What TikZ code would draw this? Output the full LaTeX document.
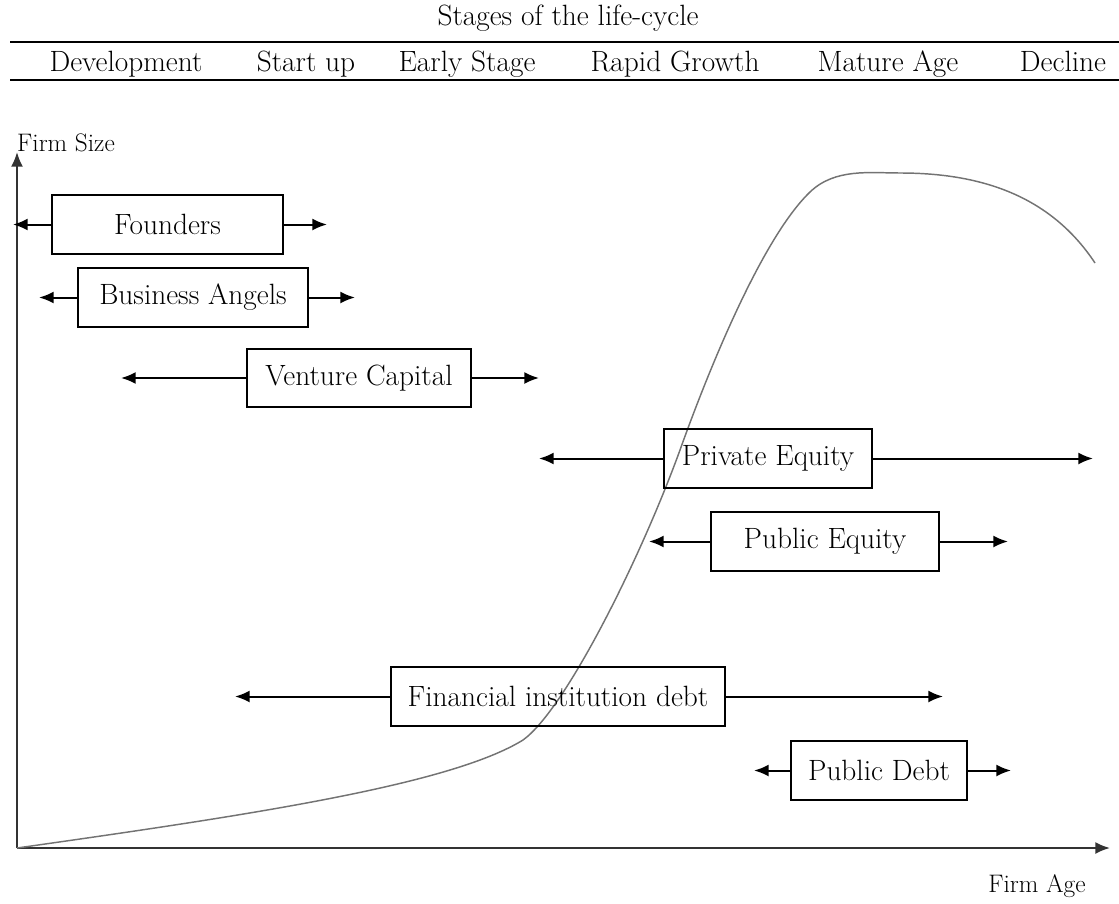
\documentclass[tikz,border=0pt]{standalone}
\usepackage{amsmath}
\usepackage{xcolor}
\usepackage{tikz}
\usetikzlibrary{arrows.meta,positioning}

\begin{document}
\begin{tikzpicture}[x=0.75pt,y=-0.75pt,
    fund/.style={draw,line width=1.5pt,minimum height=44pt,inner sep=0pt,font=\fontsize{22}{26}\selectfont},
    tip/.style={line width=1.5pt,-{Latex[length=11pt,width=9pt]}},
    lbl/.style={font=\fontsize{22}{26}\selectfont}]
            \useasboundingbox (0,0) rectangle (1119,903);

            % stages of the life-cycle
            \node[lbl] (stages) at (568,18) {Stages of the life-cycle};
            \draw[line width=1.5pt] (10,42) -- (1119,42);
            \draw[line width=1.5pt] (10,80) -- (1119,80);
            \node[lbl,anchor=base] (dev) at (126,71) {Development};
            \node[lbl,anchor=base] (start) at (306,71) {Start up};
            \node[lbl,anchor=base] (early) at (467,71) {Early Stage};
            \node[lbl,anchor=base] (rapid) at (675,71) {Rapid Growth};
            \node[lbl,anchor=base] (mature) at (888,71) {Mature Age};
            \node[lbl,anchor=base] (decline) at (1063,71) {Decline};

            % axes
            \coordinate (O) at (17,848);
            \coordinate (ytop) at (17,152);
            \coordinate (xend) at (1110,848);
            \draw[tip,black!80] (O) -- (ytop);
            \draw[tip,black!80] (O) -- (xend);
            \node[font=\fontsize{19}{22}\selectfont] (size) at (66,143) {Firm Size};
            \node[font=\fontsize{19}{22}\selectfont] (age) at (1037,886) {Firm Age};

            % size over age
            \draw[black!55,line width=1.1pt] (17,848)
                .. controls (250,815) and (450,785) .. (523,740)
                .. controls (565,710) and (640,560) .. (680,450)
                .. controls (705,380) and (760,240) .. (810,192)
                .. controls (835,168) and (870,173) .. (900,173)
                .. controls (980,173) and (1050,195) .. (1095,263);

            % sources of finance
            \node[fund,minimum width=173pt] (founders) at (167.5,224.5) {Founders};
            \node[fund,minimum width=172.5pt] (angels) at (193,297.5) {Business Angels};
            \node[fund,minimum width=168pt] (venture) at (359,378) {Venture Capital};
            \node[fund,minimum width=156pt] (private) at (768,458.5) {Private Equity};
            \node[fund,minimum width=171pt] (public) at (825,541.5) {Public Equity};
            \node[fund,minimum width=250.5pt] (bank) at (558,696.5) {Financial institution debt};
            \node[fund,minimum width=132pt] (bonds) at (879,770.5) {Public Debt};

            \coordinate (founders-l) at (13,224.5);
            \coordinate (founders-r) at (327,224.5);
            \coordinate (angels-l) at (39,297.5);
            \coordinate (angels-r) at (355,297.5);
            \coordinate (venture-l) at (121,378);
            \coordinate (venture-r) at (539,378);
            \coordinate (private-l) at (539,458.5);
            \coordinate (private-r) at (1093,458.5);
            \coordinate (public-l) at (649,541.5);
            \coordinate (public-r) at (1008,541.5);
            \coordinate (bank-l) at (235,696.5);
            \coordinate (bank-r) at (943,696.5);
            \coordinate (bonds-l) at (754,770.5);
            \coordinate (bonds-r) at (1011,770.5);

            \foreach \f in {founders,angels,venture,private,public,bank,bonds}{
                \draw[tip] (\f.west) -- (\f-l);
                \draw[tip] (\f.east) -- (\f-r);
            }
\end{tikzpicture}
\end{document}
